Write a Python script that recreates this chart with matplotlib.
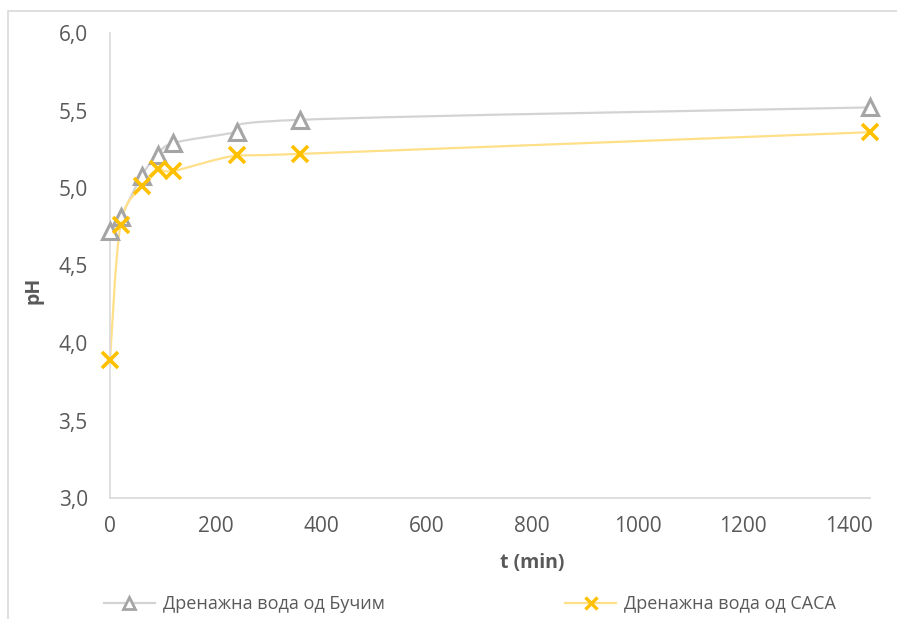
import matplotlib.pyplot as plt
from matplotlib.path import Path
from matplotlib.patches import PathPatch, Rectangle
from matplotlib.lines import Line2D
from matplotlib.ticker import FuncFormatter

# Време (min) и pH вредности
t = [0, 20, 60, 90, 120, 240, 360, 1440]
ph_buchim = [4.72, 4.81, 5.08, 5.21, 5.29, 5.36, 5.44, 5.52]
ph_sasa = [3.89, 4.76, 5.01, 5.12, 5.11, 5.21, 5.22, 5.36]

label_buchim = 'Дренажна вода од Бучим'
label_sasa = 'Дренажна вода од САСА'

gray_mark = '#A5A5A5'
gray_line = '#D3D3D3'
yel_mark = '#FFC000'
yel_line = '#FFDF88'
txt = '#595959'

plt.rcParams['font.family'] = ['Open Sans', 'DejaVu Sans']


def smooth_path(xs, ys):
    # Excel-like smoothed line as cubic Bezier segments through the points
    verts = [(xs[0], ys[0])]
    codes = [Path.MOVETO]
    n = len(xs)
    for i in range(n - 1):
        x0, y0 = (xs[i - 1], ys[i - 1]) if i > 0 else (xs[i], ys[i])
        x1, y1 = xs[i], ys[i]
        x2, y2 = xs[i + 1], ys[i + 1]
        x3, y3 = (xs[i + 2], ys[i + 2]) if i + 2 < n else (x2, y2)
        c1 = (x1 + (x2 - x0) / 6, y1 + (y2 - y0) / 6)
        c2 = (x2 - (x3 - x1) / 6, y2 - (y3 - y1) / 6)
        verts += [c1, c2, (x2, y2)]
        codes += [Path.CURVE4] * 3
    return Path(verts, codes)


fig = plt.figure(figsize=(8.97, 6.19), dpi=100)
ax = fig.add_axes([110 / 897, 1 - 498 / 619, 760 / 897, 465 / 619])

ax.add_patch(PathPatch(smooth_path(t, ph_buchim), fill=False, ec=gray_line, lw=1.6, zorder=2))
ax.add_patch(PathPatch(smooth_path(t, ph_sasa), fill=False, ec=yel_line, lw=1.6, zorder=2))
ax.plot(t, ph_buchim, ls='none', marker='^', ms=11, mfc='white', mec=gray_mark, mew=2.2,
        zorder=3, clip_on=False)
ax.plot(t, ph_sasa, ls='none', marker='x', ms=11, mec=yel_mark, mew=2.6, zorder=4, clip_on=False)

ax.set_xlim(0, 1440)
ax.set_ylim(3.0, 6.0)
ax.set_xticks(range(0, 1401, 200))
ax.set_yticks([3.0, 3.5, 4.0, 4.5, 5.0, 5.5, 6.0])
ax.yaxis.set_major_formatter(FuncFormatter(lambda v, p: f'{v:.1f}'.replace('.', ',')))
ax.tick_params(length=0, labelsize=15, colors=txt)
ax.tick_params(axis='x', pad=13)
ax.tick_params(axis='y', pad=16)
for s in ['top', 'right']:
    ax.spines[s].set_visible(False)
for s in ['left', 'bottom']:
    ax.spines[s].set_color('#D9D9D9')
    ax.spines[s].set_linewidth(1.2)

fig.text(532 / 897, 1 - 563 / 619, 't (min)', ha='center', va='center',
         fontsize=14, fontweight='bold', color=txt)
fig.text(33 / 897, 1 - 290 / 619, 'pH', ha='center', va='center', rotation=90,
         fontsize=14, fontweight='bold', color=txt)

handles = [
    Line2D([], [], color=gray_line, lw=1.6, marker='^', ms=8, mfc='white', mec=gray_mark, mew=2),
    Line2D([], [], color=yel_line, lw=1.6, marker='x', ms=8, mec=yel_mark, mew=2.4),
]
fig.legend(handles, [label_buchim, label_sasa], loc='center', ncol=2, frameon=False,
           bbox_to_anchor=(470 / 897, 1 - 604 / 619), fontsize=13, labelcolor=txt,
           handlelength=2.8, handletextpad=0.45, columnspacing=10)

# рамка на графиконот
fig.patches.append(Rectangle((8 / 897, -0.05), 1.0, 1 - 11 / 619 + 0.05, transform=fig.transFigure,
                             fill=False, ec='#D9D9D9', lw=1.2))

fig.savefig('out.png', dpi=100)
